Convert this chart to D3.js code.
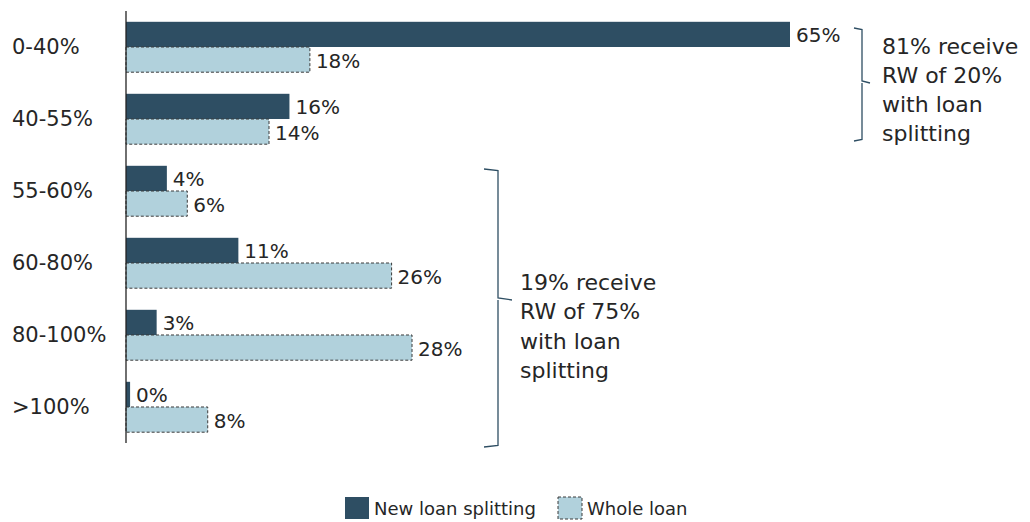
<!DOCTYPE html>
<html lang="en">
<head>
  <meta charset="UTF-8"/>
  <title>Loan splitting by LTV band</title>
  <script src="https://d3js.org/d3.v7.min.js"></script>
  <style>
  body {
    margin: 0;
    background: #fff;
    font-family: 'DejaVu Sans', sans-serif;
  }

  svg {
    display: block;
  }

  text {
    fill: #262626;
  }

  text.value {
    font-size: 20px;
  }

  text.cat {
    font-size: 21px;
  }

  text.note {
    font-size: 22px;
  }

  text.legend {
    font-size: 18px;
  }

  .bar-new {
    fill: #2e4e63;
  }

  .bar-whole {
    fill: #b1d1dc;
    stroke: #3a3a3a;
    stroke-width: 1;
    stroke-dasharray: 3 2;
  }

  .brace {
    fill: none;
    stroke: #2e4e63;
    stroke-width: 1.3;
  }
  </style>
</head>
<body>
  <svg width="1030" height="522"></svg>

  <script>
    // LTV bands, top to bottom
    const categories = ['0-40%', '40-55%', '55-60%', '60-80%', '80-100%', '>100%'];
    const newSplitting = [65, 16, 4, 11, 3, 0.4];
    const wholeLoan = [18, 14, 6, 26, 28, 8];
    const newLabels = ['65%', '16%', '4%', '11%', '3%', '0%'];
    const wholeLabels = ['18%', '14%', '6%', '26%', '28%', '8%'];
    const seriesNames = ['New loan splitting', 'Whole loan'];
    const note1 = ['81% receive', 'RW of 20%', 'with loan', 'splitting'];
    const note2 = ['19% receive', 'RW of 75%', 'with loan', 'splitting'];

    const rows = categories.map((c, i) => ({
      cat: c,
      vals: [
        { key: 'new', v: newSplitting[i], label: newLabels[i] },
        { key: 'whole', v: wholeLoan[i], label: wholeLabels[i] }
      ]
    }));

    const svg = d3.select('svg');

    const x = d3.scaleLinear()
      .domain([0, 65])
      .range([126, 790]);

    const y = d3.scaleBand()
      .domain(categories)
      .range([11, 443])
      .paddingInner(0.3)
      .paddingOuter(0.15);

    const ySub = d3.scaleBand()
      .domain(['new', 'whole'])
      .range([0, y.bandwidth()]);

    const groups = svg.selectAll('g.row')
      .data(rows)
      .enter()
      .append('g')
      .attr('class', 'row')
      .attr('transform', d => `translate(0, ${y(d.cat)})`);

    groups.selectAll('rect')
      .data(d => d.vals)
      .enter()
      .append('rect')
      .attr('class', d => d.key === 'new' ? 'bar-new' : 'bar-whole')
      .attr('x', x(0))
      .attr('y', d => ySub(d.key))
      .attr('width', d => x(d.v) - x(0))
      .attr('height', ySub.bandwidth());

    groups.selectAll('text.value')
      .data(d => d.vals)
      .enter()
      .append('text')
      .attr('class', 'value')
      .attr('x', d => x(d.v) + 6)
      .attr('y', d => ySub(d.key) + ySub.bandwidth() / 2 + 1)
      .attr('dy', '0.35em')
      .text(d => d.label);

    // category labels
    svg.append('g')
      .selectAll('text')
      .data(categories)
      .enter()
      .append('text')
      .attr('class', 'cat')
      .attr('x', 12)
      .attr('y', d => y(d) + y.bandwidth() / 2)
      .attr('dy', '0.35em')
      .text(d => d);

    // axis line
    svg.append('line')
      .attr('x1', x(0)).attr('x2', x(0))
      .attr('y1', 11).attr('y2', 443)
      .attr('stroke', '#222')
      .attr('stroke-width', 1.3);

    // right curly brace: x = vertical line, top/bottom, tip y
    function brace(xv, top, bottom, tip, hook, point) {
      const p = d3.path();
      p.moveTo(xv - hook, top);
      p.lineTo(xv, top + 1.5);
      p.lineTo(xv, tip - 2);
      p.lineTo(xv + point, tip);
      p.moveTo(xv, tip);
      p.lineTo(xv, tip + 2);
      p.lineTo(xv, bottom - 1.5);
      p.lineTo(xv - hook, bottom);
      svg.append('path').attr('class', 'brace').attr('d', p.toString());
    }

    brace(862, 28, 141, 83, 8, 8);
    brace(498, 169, 447, 300, 14, 14);

    svg.append('g')
      .selectAll('text')
      .data(note1)
      .enter()
      .append('text')
      .attr('class', 'note')
      .attr('x', 882)
      .attr('y', (d, i) => 46 + i * 29)
      .attr('dy', '0.35em')
      .text(d => d);

    svg.append('g')
      .selectAll('text')
      .data(note2)
      .enter()
      .append('text')
      .attr('class', 'note')
      .attr('x', 520)
      .attr('y', (d, i) => 282 + i * 29.5)
      .attr('dy', '0.35em')
      .text(d => d);

    // legend
    const legend = svg.append('g');
    const legendX = [345, 558];
    const legendText = [374, 587];

    legend.selectAll('rect')
      .data(seriesNames)
      .enter()
      .append('rect')
      .attr('class', (d, i) => i === 0 ? 'bar-new' : 'bar-whole')
      .attr('x', (d, i) => legendX[i])
      .attr('y', 497)
      .attr('width', 24)
      .attr('height', 22);

    legend.selectAll('text')
      .data(seriesNames)
      .enter()
      .append('text')
      .attr('class', 'legend')
      .attr('x', (d, i) => legendText[i])
      .attr('y', 509)
      .attr('dy', '0.35em')
      .text(d => d);
  </script>
</body>
</html>
